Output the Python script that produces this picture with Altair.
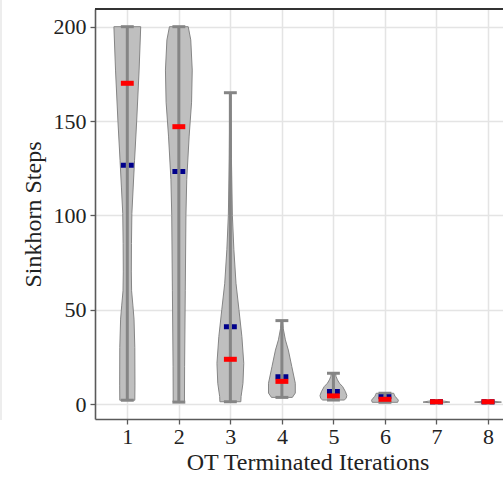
import altair as alt
import pandas as pd

# ---- data ----
cats = [1, 2, 3, 4, 5, 6, 7, 8]
medians = [170.0, 147.0, 23.7, 12.0, 4.3, 2.5, 1.2, 1.2]
means = [126.6, 123.2, 41.0, 14.5, 6.6, 3.9, 1.2, 1.2]
mins = [2.0, 1.0, 1.2, 3.5, 2.1, 0.9, 0.5, 0.5]
maxs = [200.0, 200.0, 165.0, 44.2, 16.3, 5.7, 1.8, 1.6]

# violin profiles: value level and relative density (max = 1)
v1_y = [2, 10, 30, 45, 52, 60, 70, 85, 101, 115, 129, 150, 177, 200]
v1_d = [0.56, 0.57, 0.56, 0.50, 0.42, 0.32, 0.30, 0.31, 0.34, 0.44, 0.54, 0.70, 0.88, 1.0]
v2_y = [1, 20, 60, 100, 119, 124, 142, 160, 177, 193, 200]
v2_d = [0.42, 0.43, 0.48, 0.53, 0.59, 0.63, 0.77, 0.95, 1.0, 0.89, 0.70]
v3_y = [1.2, 4, 11, 21.6, 35.7, 50, 64, 82, 100, 130, 165]
v3_d = [0.78, 0.80, 0.94, 1.0, 0.86, 0.64, 0.42, 0.26, 0.15, 0.08, 0.04]
v4_y = [3.5, 5.8, 11, 19.8, 28.6, 34, 40, 44.2]
v4_d = [0.78, 1.0, 1.0, 0.74, 0.48, 0.26, 0.10, 0.05]
v5_y = [2.1, 3, 4.5, 6.5, 9.2, 11, 12.8, 14.5, 16.3]
v5_d = [0.80, 0.95, 1.0, 0.90, 0.69, 0.45, 0.30, 0.20, 0.15]
v6_y = [0.9, 2, 3, 4, 5, 5.7]
v6_d = [0.95, 1.0, 0.90, 0.75, 0.70, 0.65]
v7_y = [0.5, 1.0, 1.5, 1.8]
v7_d = [0.30, 1.0, 0.60, 0.30]
v8_y = [0.5, 1.0, 1.3, 1.6]
v8_d = [0.30, 1.0, 0.60, 0.30]

profiles_y = [v1_y, v2_y, v3_y, v4_y, v5_y, v6_y, v7_y, v8_y]
profiles_d = [v1_d, v2_d, v3_d, v4_d, v5_d, v6_d, v7_d, v8_d]

HALF = 0.26   # half of violin width in category units
BAR = 0.125   # half of marker width

rows = []
for c, ys, ds in zip(cats, profiles_y, profiles_d):
    for y, d in zip(ys, ds):
        rows.append({"cat": c, "v": y, "d": d})
violins = pd.DataFrame(rows)
stats = pd.DataFrame({"cat": cats, "median": medians, "mean": means,
                      "min": mins, "max": maxs})

FONT = "Liberation Serif"
xscale = alt.Scale(domain=[0.373, 8.291], nice=False, zero=False)
yscale = alt.Scale(domain=[-7.95, 209.38], nice=False, zero=False)

xaxis = alt.Axis(values=cats, format="d", title="OT Terminated Iterations",
                 grid=True, gridColor="#e4e4e4", gridWidth=1.5,
                 domainColor="#5a5a5a", domainWidth=1.6, tickColor="#5a5a5a",
                 tickSize=5, tickWidth=1.3, labelFontSize=22, titleFontSize=24,
                 labelFont=FONT, titleFont=FONT, labelColor="#222222",
                 titleColor="#222222", titleFontWeight="normal", labelPadding=2,
                 titleX=212.5, titleY=50, titleBaseline="alphabetic",
                 titleAnchor="start", titleAlign="center")
yaxis = alt.Axis(values=[0, 50, 100, 150, 200], title="Sinkhorn Steps",
                 grid=True, gridColor="#e4e4e4", gridWidth=1.5,
                 domainColor="#5a5a5a", domainWidth=1.6, tickColor="#5a5a5a",
                 tickSize=5, tickWidth=1.3, labelFontSize=22, titleFontSize=24,
                 labelFont=FONT, titleFont=FONT, labelColor="#222222",
                 titleColor="#222222", titleFontWeight="normal", labelPadding=4,
                 titleX=-62, titleY=205, titleBaseline="middle", titleAlign="center",
                 titleAngle=-90)

base_v = alt.Chart(violins).transform_calculate(
    left=f"datum.cat - datum.d * {HALF}",
    right=f"datum.cat + datum.d * {HALF}",
)
violin = base_v.mark_area(orient="horizontal",
                          fill="#bfbfbf", stroke="#858585", strokeWidth=1,
                          fillOpacity=1).encode(
    y=alt.Y("v:Q", scale=yscale, axis=yaxis),
    x=alt.X("left:Q", scale=xscale, axis=xaxis, stack=None),
    x2="right:Q",
    detail="cat:N",
)

base_s = alt.Chart(stats).transform_calculate(
    l=f"datum.cat - {BAR}", r=f"datum.cat + {BAR}")

bars = base_s.mark_rule(color="#858585", strokeWidth=3).encode(
    x=alt.X("cat:Q", scale=xscale), y=alt.Y("min:Q", scale=yscale), y2="max:Q")
cap_top = base_s.mark_rule(color="#858585", strokeWidth=3).encode(
    x=alt.X("l:Q", scale=xscale), x2="r:Q", y=alt.Y("max:Q", scale=yscale))
cap_bot = base_s.mark_rule(color="#858585", strokeWidth=3).encode(
    x=alt.X("l:Q", scale=xscale), x2="r:Q", y=alt.Y("min:Q", scale=yscale))
mean_m = base_s.mark_rule(color="#00008b", strokeWidth=5, strokeDash=[5, 3],
                          strokeCap="butt").encode(
    x=alt.X("l:Q", scale=xscale), x2="r:Q", y=alt.Y("mean:Q", scale=yscale))
med_m = base_s.mark_rule(color="#ff0000", strokeWidth=5, strokeCap="butt").encode(
    x=alt.X("l:Q", scale=xscale), x2="r:Q", y=alt.Y("median:Q", scale=yscale))

# top spine
top = alt.Chart(stats).mark_rule(color="#333333", strokeWidth=1.8).encode(
    x=alt.value(0), x2=alt.value(408), y=alt.value(0))
# faint page border at the far left
border = alt.Chart(stats).mark_rule(color="#ececec", strokeWidth=1.5).encode(
    x=alt.value(-94), y=alt.value(-9), y2=alt.value(411))

chart = alt.layer(border, violin, bars, cap_top, cap_bot, mean_m, med_m, top).properties(
    width=408, height=410,
    autosize=alt.AutoSizeParams(type="none"),
    padding={"left": 95, "top": 9, "right": 0, "bottom": 60},
    background="white",
).configure_view(stroke=None)

chart.save("out.html", embed_options={"renderer": "svg", "actions": False})
